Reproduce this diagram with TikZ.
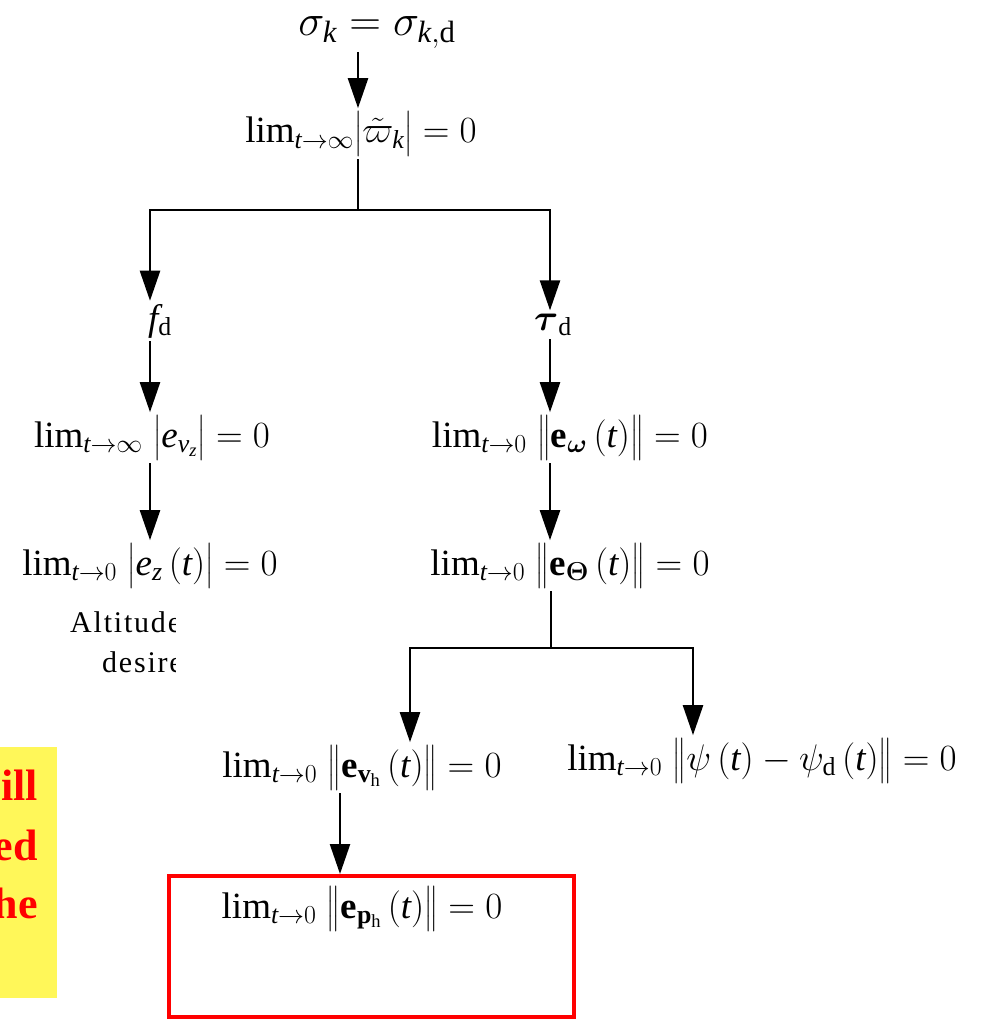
\RequirePackage{fix-cm}
\documentclass[tikz,border=0pt]{standalone}
\usepackage{amsmath}
\usepackage{fontspec}
\setmainfont{Liberation Serif}
\usepackage{xcolor}
\usepackage{tikz}
\usetikzlibrary{arrows.meta, calc}

\begin{document}
\begin{tikzpicture}[
    x=1pt, y=-1pt,
    eq/.style={anchor=base, inner sep=3pt, font=\fontsize{37}{44}\selectfont},
    top/.style={eq, font=\fontsize{44}{52}\selectfont},
    note/.style={anchor=base west, inner sep=0pt, font=\fontsize{30}{36}\selectfont\addfontfeatures{LetterSpace=6}},
    memo/.style={anchor=base east, inner sep=0pt, text=red, font=\fontsize{44}{52}\selectfont\bfseries},
    arr/.style={-{Triangle[width=20pt,length=30pt]}, line width=2.4pt, color=black},
    link/.style={line width=2.4pt, color=black}
]
\useasboundingbox (0,0) rectangle (988,1019);
\clip (0,0) rectangle (988,1019);

% column positions
\coordinate (colL) at (150,0);
\coordinate (colM) at (358,0);
\coordinate (colR) at (550,0);
\coordinate (colB) at (340,0);
\coordinate (colRL) at (410,0);
\coordinate (colRR) at (693,0);

\node[top] (sig) at (377,36) {$\sigma_{\mathit{k}}=\sigma_{\mathit{k},\mathrm{d}}$};
\node[eq] (wk) at (361,143) {$\lim_{\mathit{t}\to\infty}\bigl|\tilde{\varpi}_{\mathit{k}}\bigr|=0$};
\node[eq] (fd) at (160,330) {$\mathit{f}_{\mathrm{d}}$};
\node[eq] (taud) at (553,330) {$\boldsymbol{\tau}_{\mathrm{d}}$};
\node[eq] (evz) at (152,447) {$\lim_{\mathit{t}\to\infty}\;\bigl|\mathit{e}_{\mathit{v}_{\mathit{z}}}\bigr|=0$};
\node[eq] (ez) at (150,575) {$\lim_{\mathit{t}\to0}\;\bigl|\mathit{e}_{\mathit{z}}\left(\mathit{t}\right)\bigr|=0$};
\node[eq] (ew) at (570,447) {$\lim_{\mathit{t}\to0}\;\bigl\|\mathbf{e}_{\boldsymbol{\omega}}\left(\mathit{t}\right)\bigr\|=0$};
\node[eq] (eth) at (570,575) {$\lim_{\mathit{t}\to0}\;\bigl\|\mathbf{e}_{\boldsymbol{\Theta}}\left(\mathit{t}\right)\bigr\|=0$};
\node[eq] (evh) at (362,777) {$\lim_{\mathit{t}\to0}\;\bigl\|\mathbf{e}_{\mathbf{v}_{\mathrm{h}}}\left(\mathit{t}\right)\bigr\|=0$};
\node[eq] (psi) at (762,770) {$\lim_{\mathit{t}\to0}\;\bigl\|\psi\left(\mathit{t}\right)-\psi_{\mathrm{d}}\left(\mathit{t}\right)\bigr\|=0$};

% clipped caption under altitude branch
\begin{scope}
  \clip (0,590) rectangle (175,690);
  \node[note] (alt) at (70,632) {Altitude};
  \node[note] (des) at (102,672) {desire};
\end{scope}

% highlighted boxes
\node[draw=red, line width=4pt, anchor=north west, minimum width=405pt, minimum height=141pt, inner sep=0pt] (goal) at (167,874) {};
\node[eq] (eph) at (362,918) {$\lim_{\mathit{t}\to0}\;\bigl\|\mathbf{e}_{\mathbf{p}_{\mathrm{h}}}\left(\mathit{t}\right)\bigr\|=0$};

\node[fill=yellow!65, anchor=north west, minimum width=57pt, minimum height=251pt, inner sep=0pt] (memobox) at (0,747) {};
\node[memo] (m1) at (38,800) {ill};
\node[memo] (m2) at (38,860) {ed};
\node[memo] (m3) at (38,918) {he};

% junctions
\coordinate (j1) at (358,210);
\coordinate (j2) at (551,648);

\draw[arr] (sig.south -| colM) -- (wk.north -| colM);
\draw[link] (wk.south -| colM) -- (j1);
\draw[arr] (j1) -| (fd.north -| colL);
\draw[arr] (j1) -| (taud.north -| colR);
\draw[arr] (fd.south -| colL) -- (evz.north -| colL);
\draw[arr] (evz.south -| colL) -- (ez.north -| colL);
\draw[arr] (taud.south -| colR) -- (ew.north -| colR);
\draw[arr] (ew.south -| colR) -- (eth.north -| colR);
\draw[link] (eth.south -| j2) -- (j2);
\draw[arr] (j2) -| (evh.north -| colRL);
\draw[arr] (j2) -| (psi.north -| colRR);
\draw[arr] (evh.south -| colB) -- (goal.north -| colB);

\end{tikzpicture}
\end{document}
